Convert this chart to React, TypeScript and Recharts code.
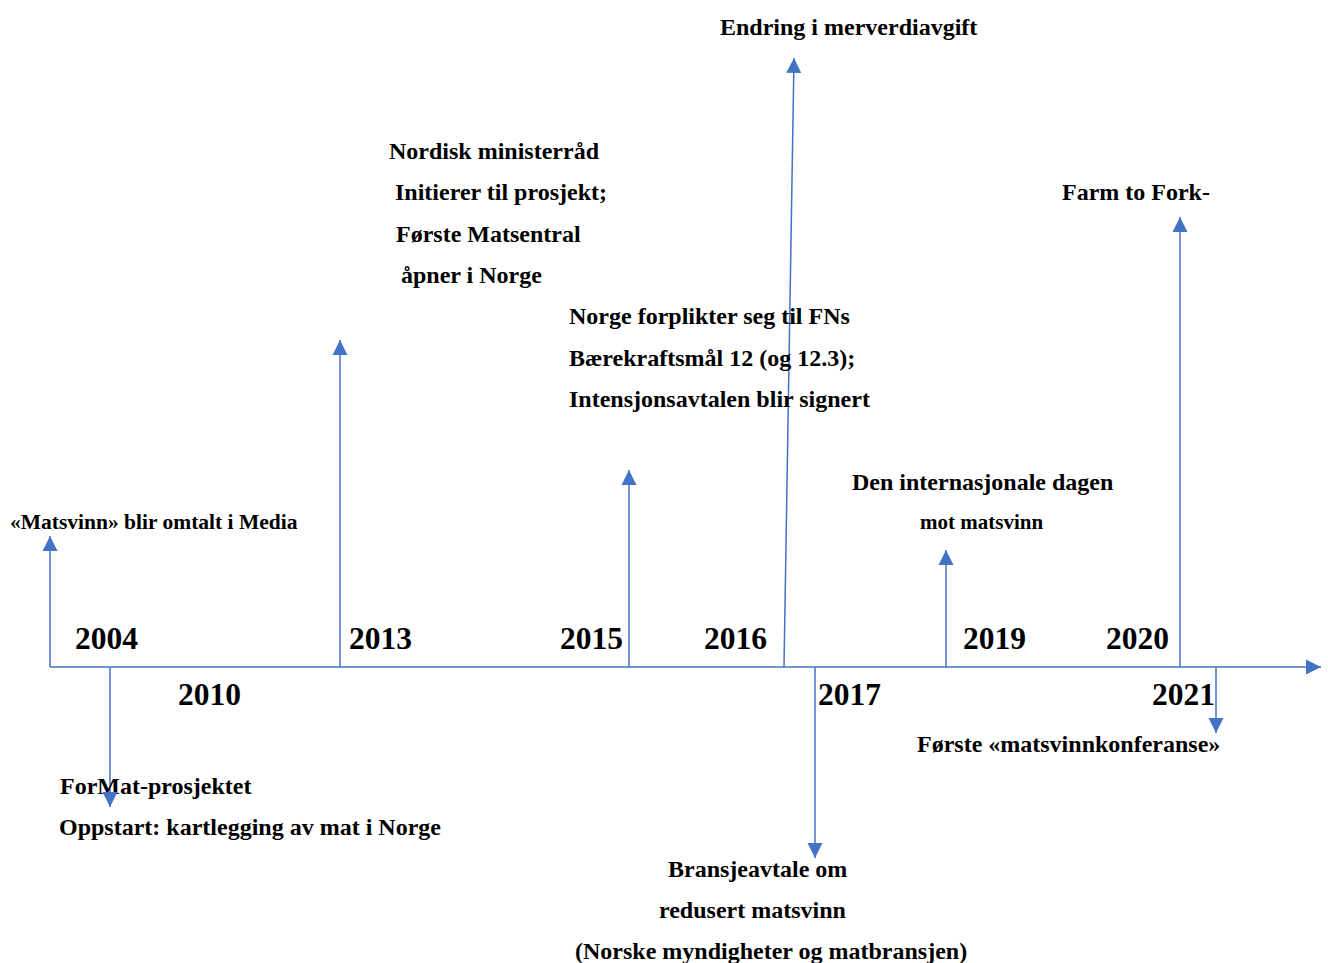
import React from 'react';
import { ComposedChart, Line, Scatter, XAxis, YAxis } from 'recharts';

// ---------- data (chart units: x = position along the timeline, y = height on the page) ----------
const AXIS_Y = 667;
const axisStartX = 50;
const axisEndX = 1321;

const years = ['2004', '2010', '2013', '2015', '2016', '2017', '2019', '2020', '2021'];
const yearLabelX = [75, 178, 349, 560, 704, 818, 963, 1106, 1152];
const yearLabelY = [649, 705, 649, 649, 649, 705, 649, 649, 705];

const markerBaseX = [50, 110, 340, 629, 784, 815, 946, 1180, 1216];
const markerTipX = [50, 110, 340, 629, 794, 815, 946, 1180, 1216];
const markerTipY = [536, 807, 340, 470, 58, 858, 550, 217, 733];

const eventLines: string[][] = [
  ['«Matsvinn» blir omtalt i Media'],
  ['ForMat-prosjektet', 'Oppstart: kartlegging av mat i Norge'],
  ['Nordisk ministerråd', 'Initierer til prosjekt;', 'Første Matsentral', 'åpner i Norge'],
  ['Norge forplikter seg til FNs', 'Bærekraftsmål 12 (og 12.3);', 'Intensjonsavtalen blir signert'],
  ['Endring i merverdiavgift'],
  ['Bransjeavtale om', 'redusert matsvinn', '(Norske myndigheter og matbransjen)'],
  ['Den internasjonale dagen', 'mot matsvinn'],
  ['Farm to Fork-'],
  ['Første «matsvinnkonferanse»'],
];
const eventLineX: number[][] = [
  [10],
  [60, 59],
  [389, 395, 396, 401],
  [569, 569, 569],
  [720],
  [668, 659, 575],
  [852, 920],
  [1062],
  [917],
];
const eventLineY: number[][] = [
  [529],
  [794, 835],
  [159, 200, 242, 283],
  [324, 366, 407],
  [35],
  [877, 918, 959],
  [490, 529],
  [200],
  [752],
];
const eventLineKind: string[][] = [
  ['media'],
  ['main', 'main'],
  ['main', 'main', 'main', 'main'],
  ['main', 'main', 'main'],
  ['main'],
  ['main', 'main', 'main'],
  ['main', 'small'],
  ['main'],
  ['main'],
];

// ---------- derived tables ----------
const BLUE = '#4472C4';
const FONT = "'Liberation Serif', 'Times New Roman', Times, serif";
const SIZES: Record<string, number> = { year: 31.5, main: 24, small: 21, media: 21.5 };

const axisData = [
  { x: axisStartX, y: AXIS_Y },
  { x: axisEndX, y: AXIS_Y },
];

const markerData = markerBaseX.map((bx, i) => [
  { x: bx, y: AXIS_Y },
  { x: markerTipX[i], y: markerTipY[i] },
]);

const headData = [
  ...markerBaseX.map((bx, i) => {
    const dx = markerTipX[i] - bx;
    const dy = markerTipY[i] - AXIS_Y;
    const angle = (Math.atan2(dx, -dy) * 180) / Math.PI;
    return { x: markerTipX[i], y: markerTipY[i], angle };
  }),
  { x: axisEndX, y: AXIS_Y, angle: 90 },
];

const labelData = [
  ...years.map((t, i) => ({ x: yearLabelX[i], y: yearLabelY[i], text: t, kind: 'year' })),
  ...eventLines.flatMap((lines, i) =>
    lines.map((t, j) => ({ x: eventLineX[i][j], y: eventLineY[i][j], text: t, kind: eventLineKind[i][j] }))
  ),
];

const ArrowHead = (props: any) => {
  const { cx, cy, payload } = props;
  if (cx == null || cy == null) return <g />;
  return (
    <polygon
      points={`${cx},${cy} ${cx - 7.5},${cy + 15} ${cx + 7.5},${cy + 15}`}
      fill={BLUE}
      transform={`rotate(${payload.angle} ${cx} ${cy})`}
    />
  );
};

const LabelText = (props: any) => {
  const { cx, cy, payload } = props;
  if (cx == null || cy == null) return <g />;
  return (
    <text
      x={cx}
      y={cy}
      fontFamily={FONT}
      fontWeight="bold"
      fontSize={SIZES[payload.kind]}
      fill="#000"
      textAnchor="start"
    >
      {payload.text}
    </text>
  );
};

export default function App() {
  return (
    <div style={{ position: 'absolute', left: 0, top: 0, width: 1328, height: 963, background: '#fff' }}>
      <ComposedChart width={1328} height={963} margin={{ top: 0, right: 0, bottom: 0, left: 0 }}>
        <XAxis type="number" dataKey="x" domain={[0, 1328]} hide allowDataOverflow />
        <YAxis type="number" dataKey="y" domain={[0, 963]} reversed hide allowDataOverflow />
        <Scatter data={labelData} dataKey="y" shape={LabelText} isAnimationActive={false} />
        <Line
          data={axisData}
          dataKey="y"
          stroke={BLUE}
          strokeWidth={1.5}
          dot={false}
          activeDot={false}
          isAnimationActive={false}
        />
        {markerData.map((d, i) => (
          <Line
            key={i}
            data={d}
            dataKey="y"
            stroke={BLUE}
            strokeWidth={1.5}
            dot={false}
            activeDot={false}
            isAnimationActive={false}
          />
        ))}
        <Scatter data={headData} dataKey="y" shape={ArrowHead} isAnimationActive={false} />
      </ComposedChart>
    </div>
  );
}
